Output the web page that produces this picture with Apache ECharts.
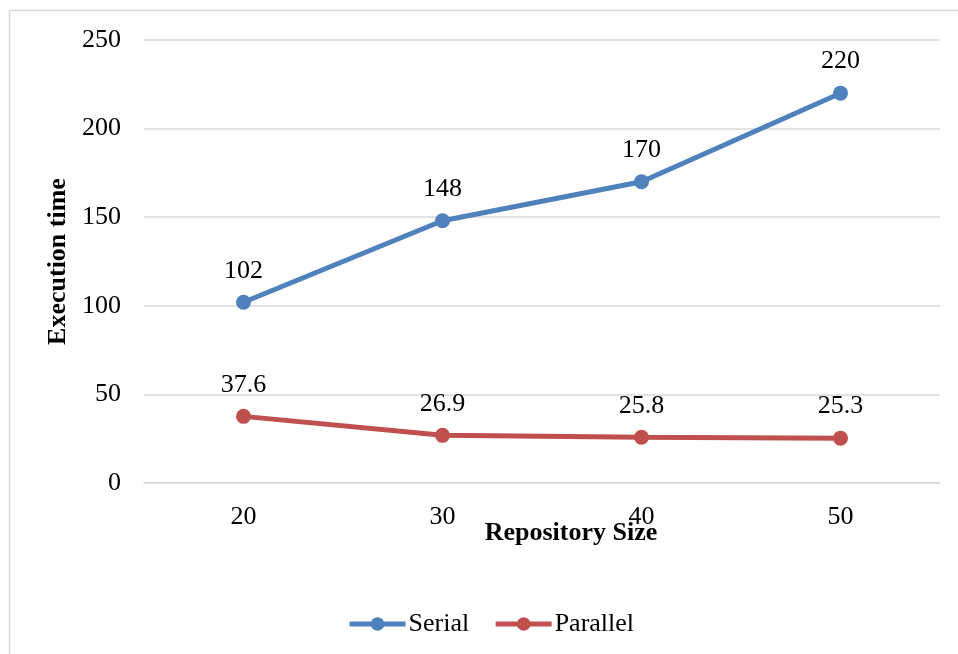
<!DOCTYPE html>
<html><head><meta charset="utf-8">
<script src="https://cdn.jsdelivr.net/npm/echarts@6/dist/echarts.min.js"></script>
<style>html,body{margin:0;padding:0;background:#fff}#c{width:958px;height:654px}</style>
</head><body><div id="c"></div>
<script>
const categories = ['20', '30', '40', '50'];
const serial = [102, 148, 170, 220];
const parallel = [37.6, 26.9, 25.8, 25.3];
const yTicks = [0, 50, 100, 150, 200, 250];

const font = 'Liberation Serif, Times New Roman, serif';
const chart = echarts.init(document.getElementById('c'));
chart.setOption({
  animation: false,
  textStyle: {fontFamily: font},
  graphic: [
    {type: 'rect', shape: {x: 9.5, y: 10.5, width: 1000, height: 1000}, style: {fill: 'none', stroke: '#d9d9d9', lineWidth: 1.5}, z: 0},
    {type: 'text', x: 571, y: 533, style: {text: 'Repository Size', font: 'bold 26px ' + font, fill: '#000', textAlign: 'center', textVerticalAlign: 'middle'}}
  ],
  grid: {left: 144, right: 18, top: 40, bottom: 171},
  legend: {
    top: 606, left: 342, itemWidth: 56, itemHeight: 17, itemGap: 24,
    textStyle: {fontSize: 26, color: '#000', fontFamily: font, padding: [0, 0, 0, -2]},
    lineStyle: {width: 5},
    data: ['Serial', 'Parallel']
  },
  xAxis: {
    type: 'category', data: categories, boundaryGap: true,
    axisLine: {lineStyle: {color: '#d9d9d9', width: 1.5}},
    axisTick: {show: false},
    axisLabel: {fontSize: 26, color: '#000', margin: 21, fontFamily: font}
  },
  yAxis: {
    type: 'value', min: 0, max: 250, interval: 50,
    name: 'Execution time', nameLocation: 'middle', nameGap: 68, nameRotate: 90,
    nameTextStyle: {fontSize: 26, fontWeight: 'bold', color: '#000', fontFamily: font},
    axisLine: {show: false}, axisTick: {show: false},
    axisLabel: {fontSize: 26, color: '#000', margin: 23, fontFamily: font,
      formatter: v => yTicks.includes(v) ? String(v) : ''},
    splitLine: {lineStyle: {color: '#d9d9d9', width: 1.5}}
  },
  series: [
    {name: 'Serial', type: 'line', data: serial, symbol: 'circle', symbolSize: 15,
     itemStyle: {color: '#4f81bd'}, lineStyle: {width: 5, color: '#4f81bd'},
     label: {show: true, position: 'top', distance: 11, fontSize: 26, color: '#000', fontFamily: font}},
    {name: 'Parallel', type: 'line', data: parallel, symbol: 'circle', symbolSize: 15,
     itemStyle: {color: '#c0504d'}, lineStyle: {width: 5, color: '#c0504d'},
     label: {show: true, position: 'top', distance: 11, fontSize: 26, color: '#000', fontFamily: font}}
  ]
});
</script></body></html>
